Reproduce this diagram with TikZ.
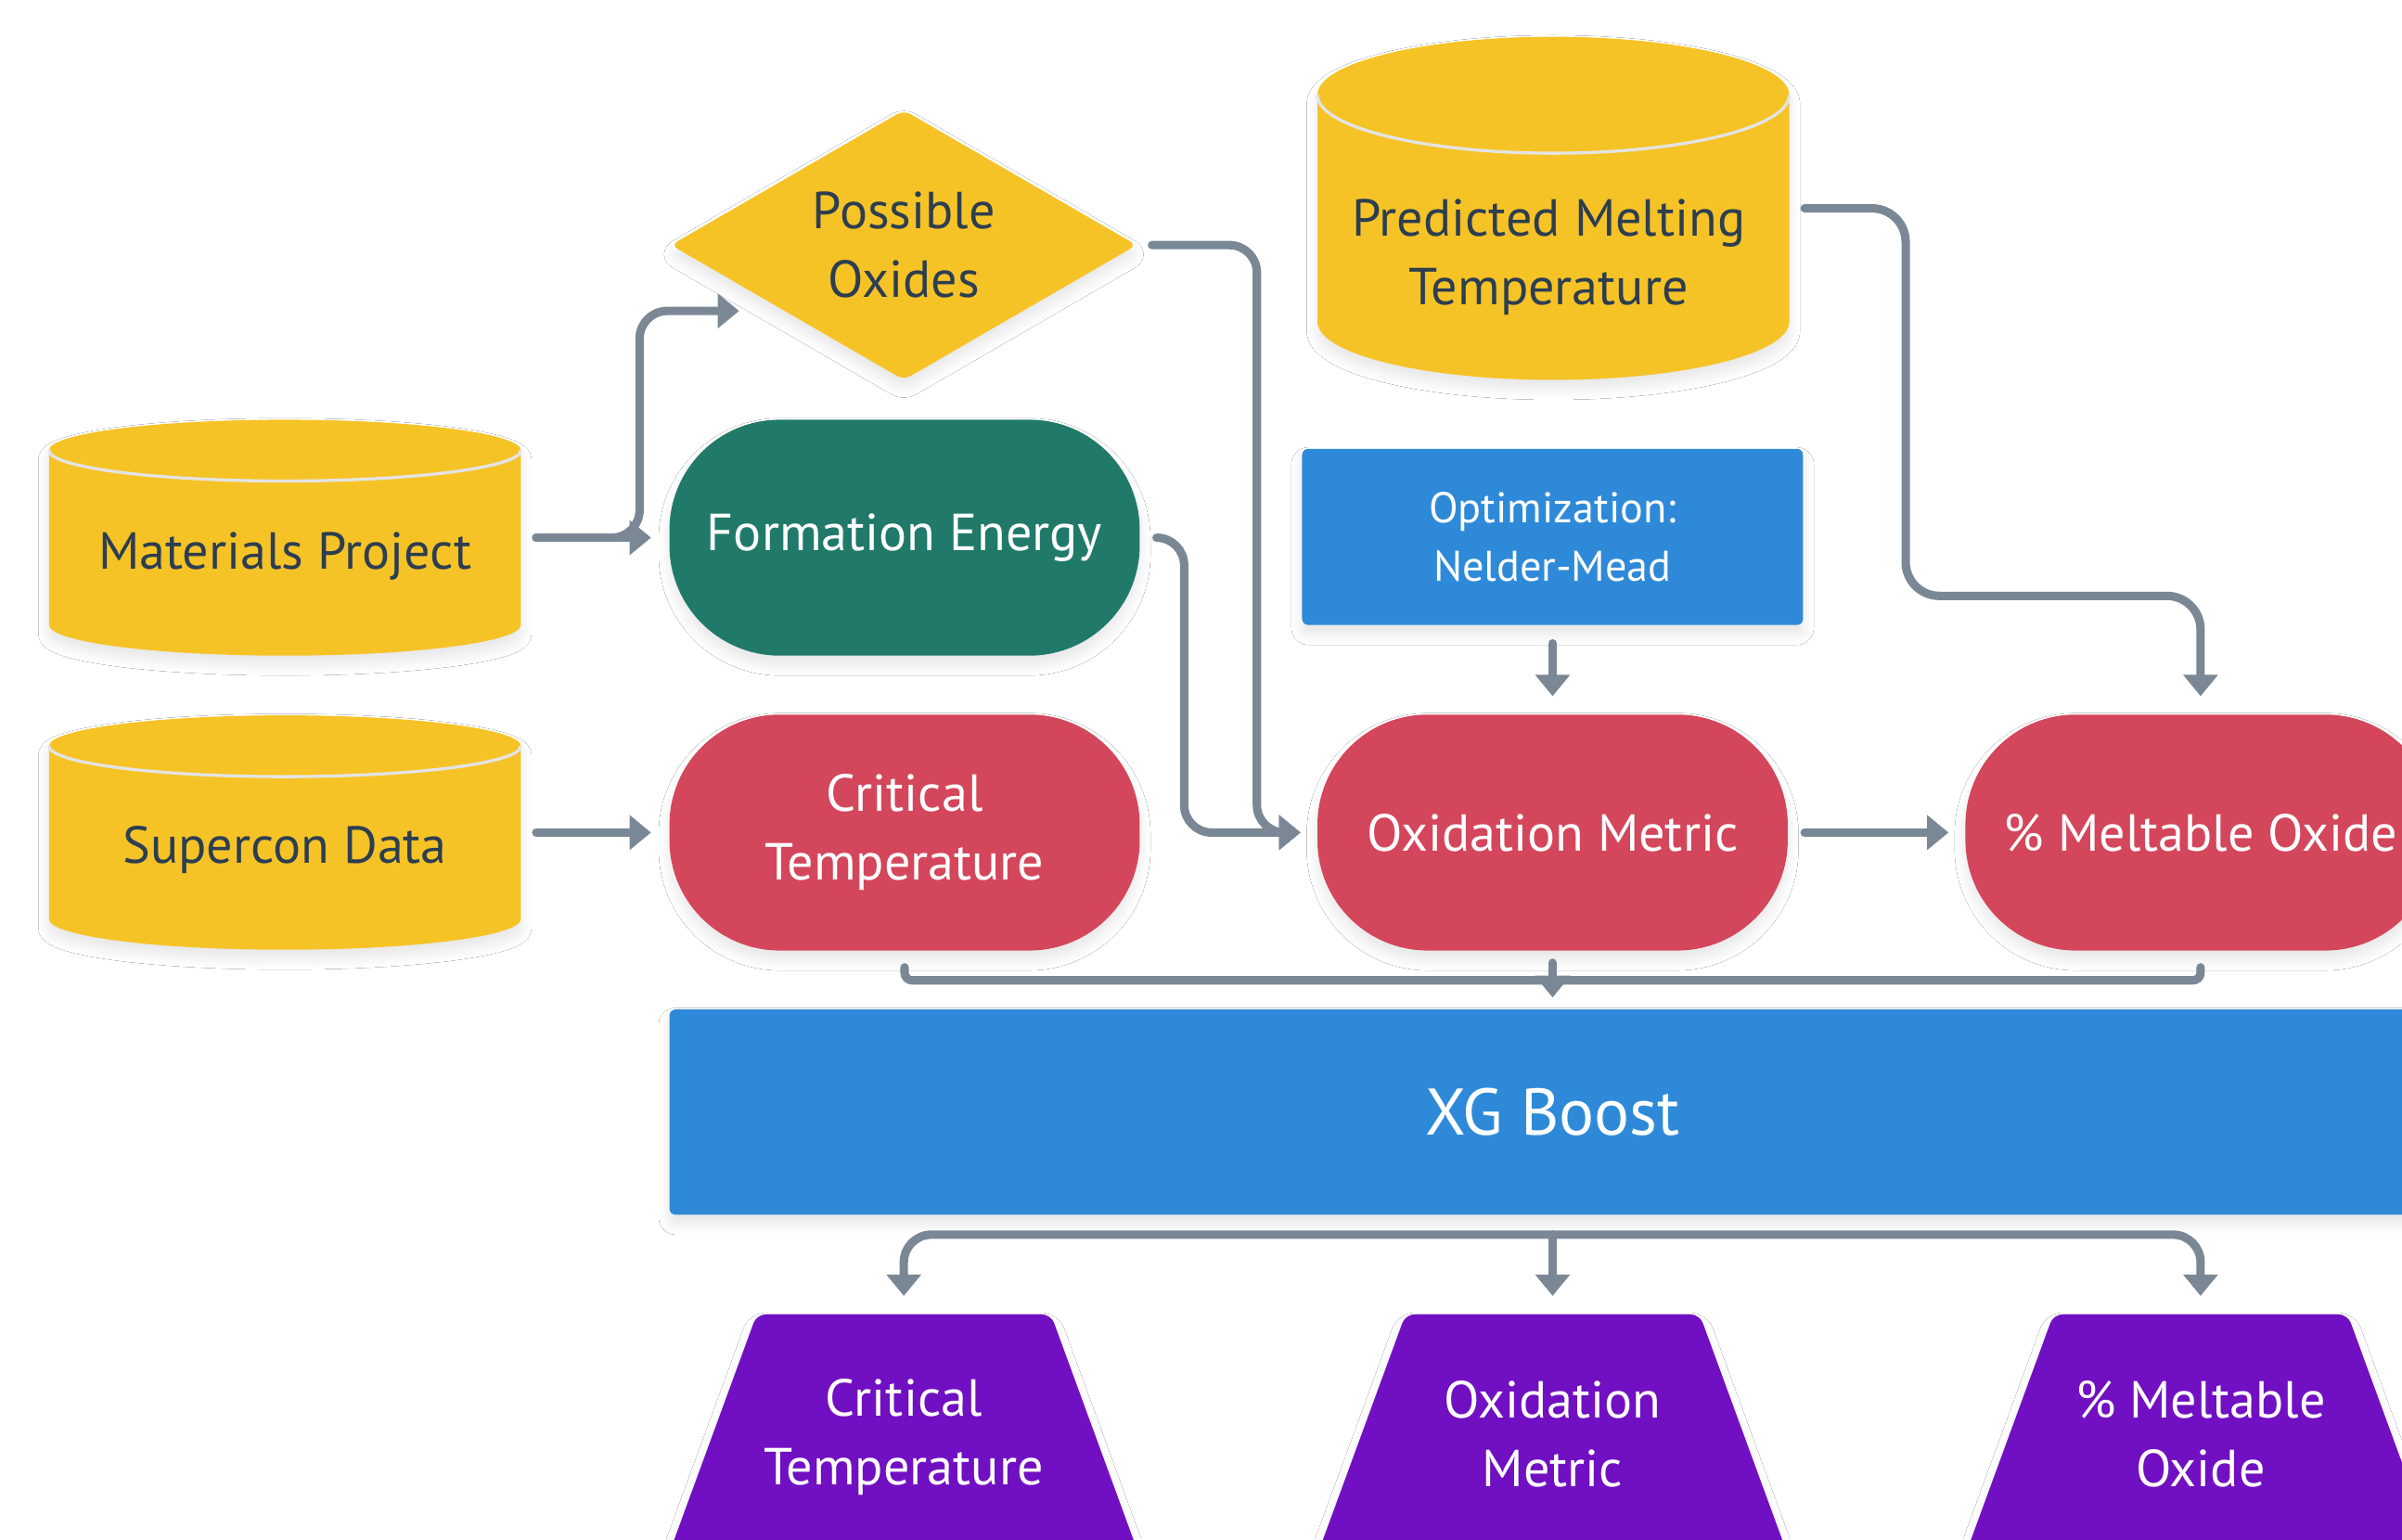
\documentclass[tikz,border=0pt]{standalone}
\usepackage{fontspec}
\setmainfont{PT Sans}
\usetikzlibrary{shapes.geometric,arrows.meta,shadows.blur}
\definecolor{yel}{HTML}{F6C327}
\definecolor{tealn}{HTML}{217A69}
\definecolor{redn}{HTML}{D4465B}
\definecolor{blu}{HTML}{2E8AD8}
\definecolor{purp}{HTML}{7110C2}
\definecolor{cgray}{HTML}{7A8896}
\definecolor{dtext}{HTML}{2C3E50}
\definecolor{seamc}{HTML}{E4E4E4}
% cylinder: cx, rx, top-ellipse centre y, bottom-ellipse centre y, ry
\newcommand\dbcyl[5]{%
 \fill[yel, soft] ({#1-#2},{#3}) -- ({#1-#2},{#4})
   .. controls ({#1-#2},{#4+0.5523*#5}) and ({#1-0.5523*#2},{#4+#5}) .. ({#1},{#4+#5})
   .. controls ({#1+0.5523*#2},{#4+#5}) and ({#1+#2},{#4+0.5523*#5}) .. ({#1+#2},{#4})
   -- ({#1+#2},{#3})
   .. controls ({#1+#2},{#3-0.5523*#5}) and ({#1+0.5523*#2},{#3-#5}) .. ({#1},{#3-#5})
   .. controls ({#1-0.5523*#2},{#3-#5}) and ({#1-#2},{#3-0.5523*#5}) .. ({#1-#2},{#3}) -- cycle;
 \draw[seamc, line width=2pt] ({#1-#2},{#3})
   .. controls ({#1-#2},{#3+0.5523*#5}) and ({#1-0.5523*#2},{#3+#5}) .. ({#1},{#3+#5})
   .. controls ({#1+0.5523*#2},{#3+#5}) and ({#1+#2},{#3+0.5523*#5}) .. ({#1+#2},{#3});
}
% output trapezoid: centre x (top edge at y=858)
\newcommand\outtrap[1]{%
 \fill[purp, soft, rounded corners=6pt] ({#1-96},858) -- ({#1+96},858) -- ({#1+96+63},1030) -- ({#1-96-63},1030) -- cycle;
}
\begin{document}
\begin{tikzpicture}[x=1pt,y=-1pt,
  font=\fontsize{34pt}{45pt}\selectfont,
  soft/.style={blur shadow={shadow xshift=0pt,shadow yshift=-6pt,shadow blur radius=7pt,shadow blur steps=14,shadow opacity=10}},
  base/.style={inner sep=0pt, outer sep=0pt, align=center},
  stadium/.style={base, rectangle, rounded corners=72pt, minimum width=307pt, minimum height=154pt, text=white, soft},
  dbnode/.style={base, minimum width=308pt},
  dbtext/.style={base, text=dtext},
  outtext/.style={base, text=white},
  conn/.style={draw=cgray, line width=5.5pt, line cap=round, rounded corners=18pt,
    -{Triangle[length=14pt,width=22pt]}},
]
\useasboundingbox (0,0) rectangle (1568,1005);
\clip (0,0) rectangle (1568,1005);
\fill[white] (0,0) rectangle (1568,1005);

% database cylinders
\dbcyl{186}{154}{294}{408}{20}
\dbcyl{186}{154}{487}{600}{20}
\dbcyl{1014}{154}{62}{210}{38}
\node[dbnode, minimum height=154pt] (mp) at (186,351) {};
\node[dbnode, minimum height=153pt] (sc) at (186,543.5) {};
\node[dbnode, minimum height=224pt] (pmt) at (1014,136) {};
\node[dbtext] at (186,363) {Materials Project};
\node[dbtext] at (186,555) {Supercon Data};
\node[dbtext] at (1011,168) {Predicted Melting\\Temperature};

% process nodes
\node[base, diamond, aspect=1.727, fill=yel, text=dtext, minimum width=304pt, minimum height=176pt,
  rounded corners=5pt, soft] (po) at (590,160) {Possible\\Oxides};
\node[stadium, fill=tealn] (fe) at (590.5,351) {Formation Energy};
\node[stadium, fill=redn] (ct) at (590.5,543.5) {Critical\\Temperature};
\node[stadium, fill=redn] (om) at (1013.5,543.5) {Oxidation Metric};
\node[stadium, fill=redn] (pmo) at (1436.5,543.5) {\% Meltable Oxide};
\node[base, rectangle, rounded corners=4pt, fill=blu, text=white, minimum width=327pt, minimum height=115pt,
  font=\fontsize{28pt}{38pt}\selectfont, soft] (opt) at (1013.5,350.5) {Optimization:\\Nelder-Mead};
\node[base, rectangle, rounded corners=4pt, fill=blu, text=white, minimum width=1153pt, minimum height=134pt,
  font=\fontsize{43pt}{48pt}\selectfont, soft] (xgb) at (1013.5,726) {XG Boost};

% outputs
\outtrap{590}
\outtrap{1013.5}
\outtrap{1436.5}
\coordinate (o1) at (590,858);
\coordinate (o2) at (1013.5,858);
\coordinate (o3) at (1436.5,858);
\node[outtext] (t1) at (590,938) {Critical\\Temperature};
\node[outtext] (t2) at (1013.5,936) {Oxidation\\Metric};
\node[outtext] (t3) at (1436.5,936) {\% Meltable\\Oxide};

% connectors
\draw[conn] ([xshift=10pt]mp.east) -- ++(67.5,0) |- ([xshift=44.5pt,yshift=-43pt]po.west);
\draw[conn] ([xshift=10pt]mp.east) -- ([xshift=-12pt]fe.west);
\draw[conn] ([xshift=10pt]sc.east) -- ([xshift=-12pt]ct.west);
\draw[conn] ([xshift=10pt]po.east) -- ++(68.5,0) |- ([xshift=-11pt]om.west);
\draw[conn] ([xshift=11pt]fe.east) -- ++(18,0) |- ([xshift=-11pt]om.west);
\draw[conn] ([yshift=-12pt]opt.south) -- ([yshift=12pt]om.north);
\draw[conn, rounded corners=22pt] ([xshift=10pt]pmt.east) -- ++(66,0) -- ++(0,253) -| ([yshift=12pt]pmo.north);
\draw[conn] ([xshift=11pt]om.east) -- ([xshift=-11pt]pmo.west);
\draw[conn, rounded corners=5pt] ([yshift=-11pt]ct.south) -- ++(0,8.5) -| ([yshift=8pt]xgb.north);
\draw[conn, rounded corners=5pt] ([yshift=-11pt]pmo.south) -- ++(0,8.5) -| ([yshift=8pt]xgb.north);
\draw[conn] ([yshift=-8pt]om.south) -- ([yshift=8pt]xgb.north);
\draw[conn] ([yshift=-13pt]xgb.south) -| ([yshift=12pt]o1);
\draw[conn] ([yshift=-13pt]xgb.south) -| ([yshift=12pt]o3);
\draw[conn] ([yshift=-13pt]xgb.south) -- ([yshift=12pt]o2);
\end{tikzpicture}
\end{document}
